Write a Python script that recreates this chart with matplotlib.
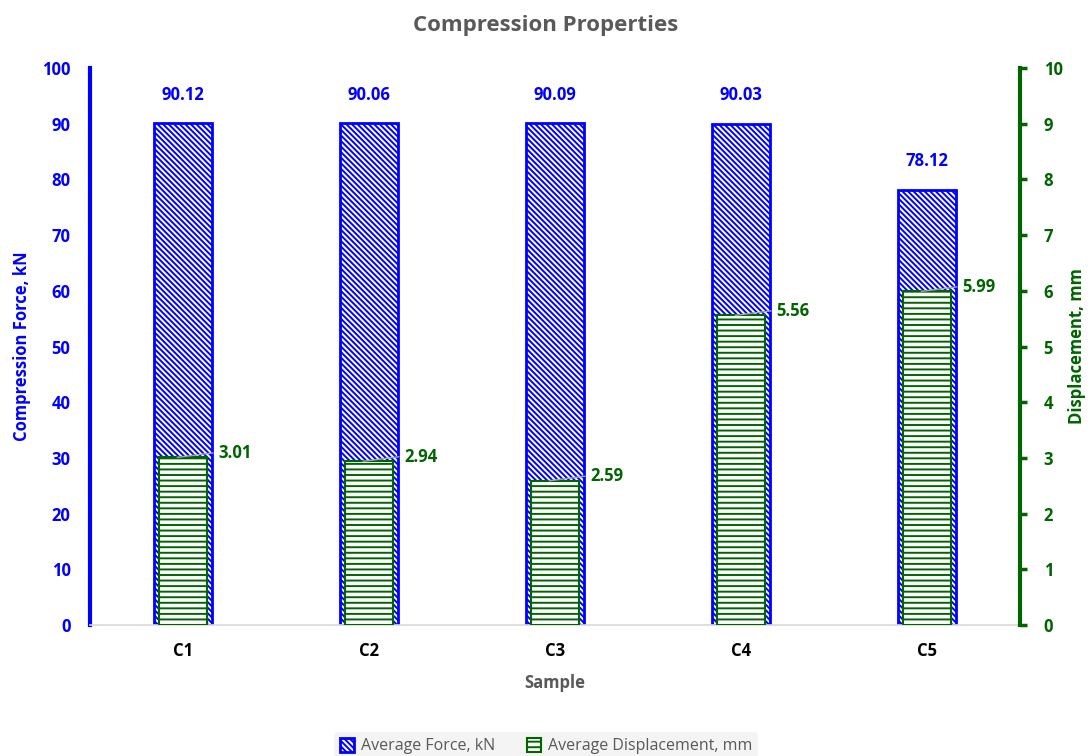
import matplotlib.pyplot as plt
import numpy as np

plt.rcParams['font.family'] = ['Open Sans', 'DejaVu Sans']
plt.rcParams['hatch.linewidth'] = 1.4

samples = ['C1', 'C2', 'C3', 'C4', 'C5']
force = [90.12, 90.06, 90.09, 90.03, 78.12]
displacement = [3.01, 2.94, 2.59, 5.56, 5.99]

blue = '#0000ff'
green = '#006400'

fig = plt.figure(figsize=(10.92, 7.56), dpi=100)
ax = fig.add_axes([90 / 1092, 1 - 625 / 756, 930 / 1092, 557 / 756])
ax2 = ax.twinx()

x = np.arange(len(samples))

ax.bar(x, force, width=0.31, facecolor='white', edgecolor=blue,
       hatch='\\' * 6, linewidth=2, label='Average Force, kN', zorder=2)
ax2.bar(x, displacement, width=0.26, facecolor='white', edgecolor=green,
        hatch='---', linewidth=1.5, label='Average Displacement, mm', zorder=3)

# value labels
for xi, f in zip(x, force):
    ax.text(xi, f + 3.5, f'{f:.2f}', ha='center', va='bottom',
            color=blue, fontsize=12, fontweight='bold')
for xi, d in zip(x, displacement):
    ax2.plot([xi - 0.03, xi + 0.16], [d, d + 0.08], color='#a6a6a6', lw=1, zorder=4)
    ax2.text(xi + 0.19, d + 0.08, f'{d:.2f}', ha='left', va='center',
             color=green, fontsize=12, fontweight='bold', zorder=5)

ax.set_xlim(-0.5, 4.5)
ax.set_ylim(0, 100)
ax2.set_ylim(0, 10)
ax.set_yticks(np.arange(0, 101, 10))
ax2.set_yticks(np.arange(0, 11, 1))
ax.set_xticks(x)
ax.set_xticklabels(samples, fontsize=12, fontweight='bold')

for a in (ax, ax2):
    for s in a.spines.values():
        s.set_visible(False)
ax.spines['left'].set_visible(True)
ax.spines['left'].set_color(blue)
ax.spines['left'].set_linewidth(3)
ax.spines['bottom'].set_visible(True)
ax.spines['bottom'].set_color('#d9d9d9')
ax.spines['bottom'].set_linewidth(1.2)
ax2.spines['right'].set_visible(True)
ax2.spines['right'].set_color(green)
ax2.spines['right'].set_linewidth(3)

ax.tick_params(axis='y', length=0, pad=14, labelcolor=blue, labelsize=12)
for lab in ax.get_yticklabels():
    lab.set_fontweight('bold')
ax2.tick_params(axis='y', length=5, width=2.5, color=green, pad=12,
                labelcolor=green, labelsize=12)
for lab in ax2.get_yticklabels():
    lab.set_fontweight('bold')
ax.tick_params(axis='x', length=0, pad=12)

ax.set_ylabel('Compression Force, kN', color=blue, fontsize=12,
              fontweight='bold', labelpad=8)
ax2.set_ylabel('Displacement, mm', color=green, fontsize=12,
               fontweight='bold', labelpad=4)
ax.set_xlabel('Sample', color='#595959', fontsize=12, fontweight='bold',
              labelpad=10)

fig.suptitle('Compression Properties', color='#595959', fontsize=16,
             fontweight='bold', y=0.98)

h1, l1 = ax.get_legend_handles_labels()
h2, l2 = ax2.get_legend_handles_labels()
leg = fig.legend(h1 + h2, l1 + l2, loc='lower center', ncol=2,
                 bbox_to_anchor=(0.5, -0.017), frameon=True, fontsize=11.5,
                 handlelength=0.9, handleheight=0.9, columnspacing=2.0,
                 handletextpad=0.4)
leg.get_frame().set_facecolor('#f2f2f2')
leg.get_frame().set_edgecolor('none')
for t in leg.get_texts():
    t.set_color('#595959')

fig.savefig('out.png', dpi=100)
